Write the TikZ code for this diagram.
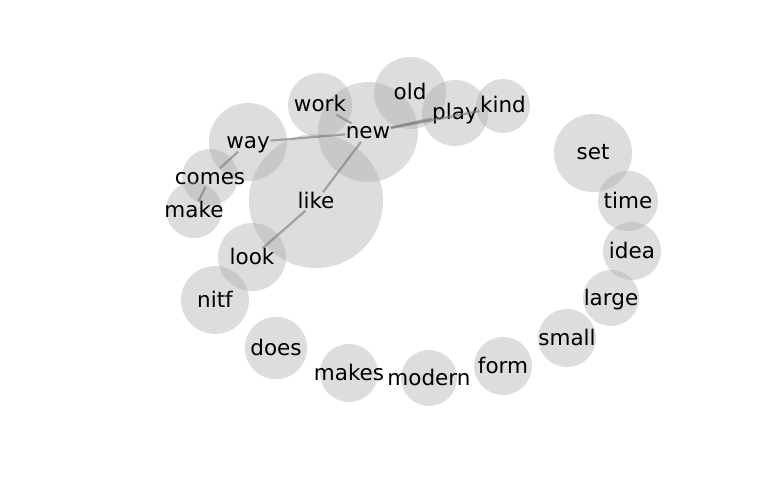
\documentclass[tikz,border=0pt]{standalone}
\usepackage{fontspec}
\setmainfont{DejaVu Sans}
\begin{document}
\begin{tikzpicture}[x=1pt,y=-1pt,
  bubble/.style={fill={rgb,255:red,166;green,166;blue,166}, fill opacity=0.38},
  word/.style={inner sep=0.5pt, anchor=base, text height=15pt, text depth=2pt,
    font=\fontsize{21.5}{24}\selectfont, text=black},
  link/.style={draw={rgb,255:red,120;green,120;blue,120}, draw opacity=0.6, line width=2.2pt}]
\useasboundingbox (0,0) rectangle (768,500);
% bubble: name, x, y, radius, label (baseline sits 7pt below the centre)
\newcommand{\wordbubble}[5]{%
  \fill[bubble] (#2,#3) circle (#4);
  \node[word] (#1) at (#2,#3+7) {#5};}
\wordbubble{like}{316}{201}{67}{like}
\wordbubble{new}{368}{132}{50}{new}
\wordbubble{way}{248}{142}{39}{way}
\wordbubble{work}{320}{105}{32}{work}
\wordbubble{old}{410}{93}{36}{old}
\wordbubble{play}{455}{113}{33}{play}
\wordbubble{kind}{503}{106}{27}{kind}
\wordbubble{comes}{210}{177}{28}{comes}
\wordbubble{make}{194}{210}{28}{make}
\wordbubble{look}{252}{257}{34}{look}
\wordbubble{nitf}{215}{300}{34}{nitf}
\wordbubble{does}{276}{348}{31}{does}
\wordbubble{makes}{349}{373}{29}{makes}
\wordbubble{modern}{429}{378}{28}{modern}
\wordbubble{form}{503}{366}{29}{form}
\wordbubble{small}{567}{338}{29}{small}
\wordbubble{large}{611}{298}{28}{large}
\wordbubble{idea}{632}{251}{29}{idea}
\wordbubble{time}{628}{201}{30}{time}
\wordbubble{set}{593}{153}{39}{set}
% co-occurrence links
\draw[link] (way) -- (new);
\draw[link] (work) -- (new);
\draw[link] (new) -- (play);
\draw[link] (new) -- (kind);
\draw[link] (new) -- (like);
\draw[link] (like) -- (look);
\draw[link] (way) -- (comes);
\draw[link] (comes) -- (make);
\end{tikzpicture}
\end{document}
